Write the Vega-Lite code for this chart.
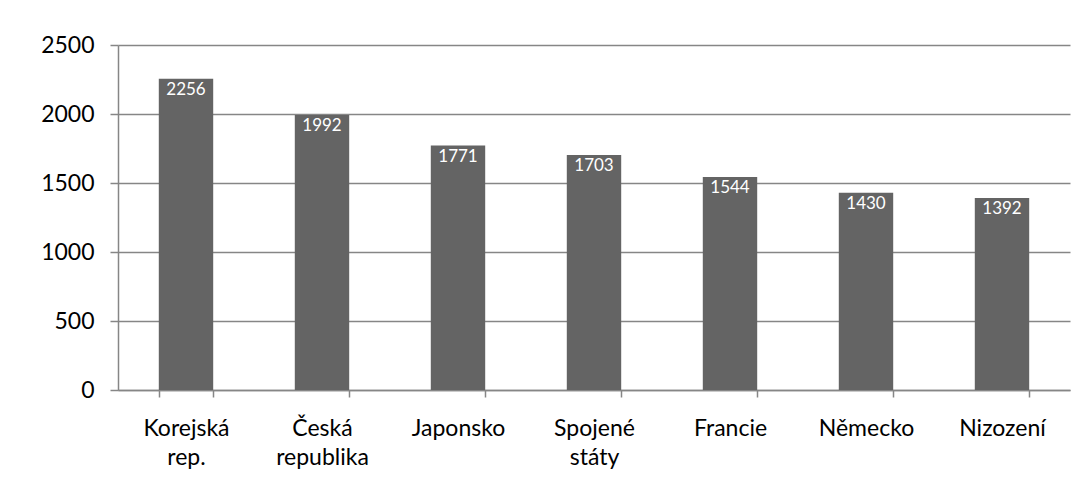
{
  "$schema": "https://vega.github.io/schema/vega-lite/v6.json",
  "width": 952,
  "height": 345,
  "autosize": {"type": "none"},
  "padding": {"left": 118, "top": 45, "right": 17, "bottom": 111},
  "background": "white",
  "config": {
    "view": {"stroke": null},
    "font": "Lato"
  },
  "data": {
    "values": [
      {"country": "Korejská rep.", "value": 2256},
      {"country": "Česká republika", "value": 1992},
      {"country": "Japonsko", "value": 1771},
      {"country": "Spojené státy", "value": 1703},
      {"country": "Francie", "value": 1544},
      {"country": "Německo", "value": 1430},
      {"country": "Nizození", "value": 1392}
    ]
  },
  "encoding": {
    "x": {
      "field": "country",
      "type": "nominal",
      "sort": null,
      "scale": {"paddingInner": 0.6, "paddingOuter": 0.3},
      "axis": {
        "title": null,
        "labelAngle": 0,
        "labelExpr": "isValid(datum.value) ? split(datum.value, ' ') : ''",
        "labelFont": "Lato",
        "labelFontSize": 23,
        "labelColor": "#000000",
        "labelPadding": 20,
        "labelLineHeight": 29,
        "labelBaseline": "top",
        "domainColor": "#868686",
        "domainWidth": 1.5,
        "tickColor": "#868686",
        "tickWidth": 1.5,
        "tickSize": 7,
        "tickBand": "extent",
        "grid": false
      }
    },
    "y": {
      "field": "value",
      "type": "quantitative",
      "scale": {"domain": [0, 2500]},
      "axis": {
        "title": null,
        "values": [0, 500, 1000, 1500, 2000, 2500],
        "format": "d",
        "labelFont": "Lato",
        "labelFontSize": 23,
        "labelColor": "#000000",
        "labelPadding": 16,
        "domainColor": "#868686",
        "domainWidth": 1.5,
        "tickColor": "#868686",
        "tickWidth": 1.5,
        "tickSize": 8,
        "gridColor": "#868686",
        "gridWidth": 1.5
      }
    }
  },
  "layer": [
    {"mark": {"type": "bar", "color": "#646464"}},
    {
      "mark": {"type": "text", "color": "white", "fontSize": 17, "baseline": "top", "dy": 3, "font": "Lato"},
      "encoding": {"text": {"field": "value", "type": "quantitative"}}
    }
  ]
}
